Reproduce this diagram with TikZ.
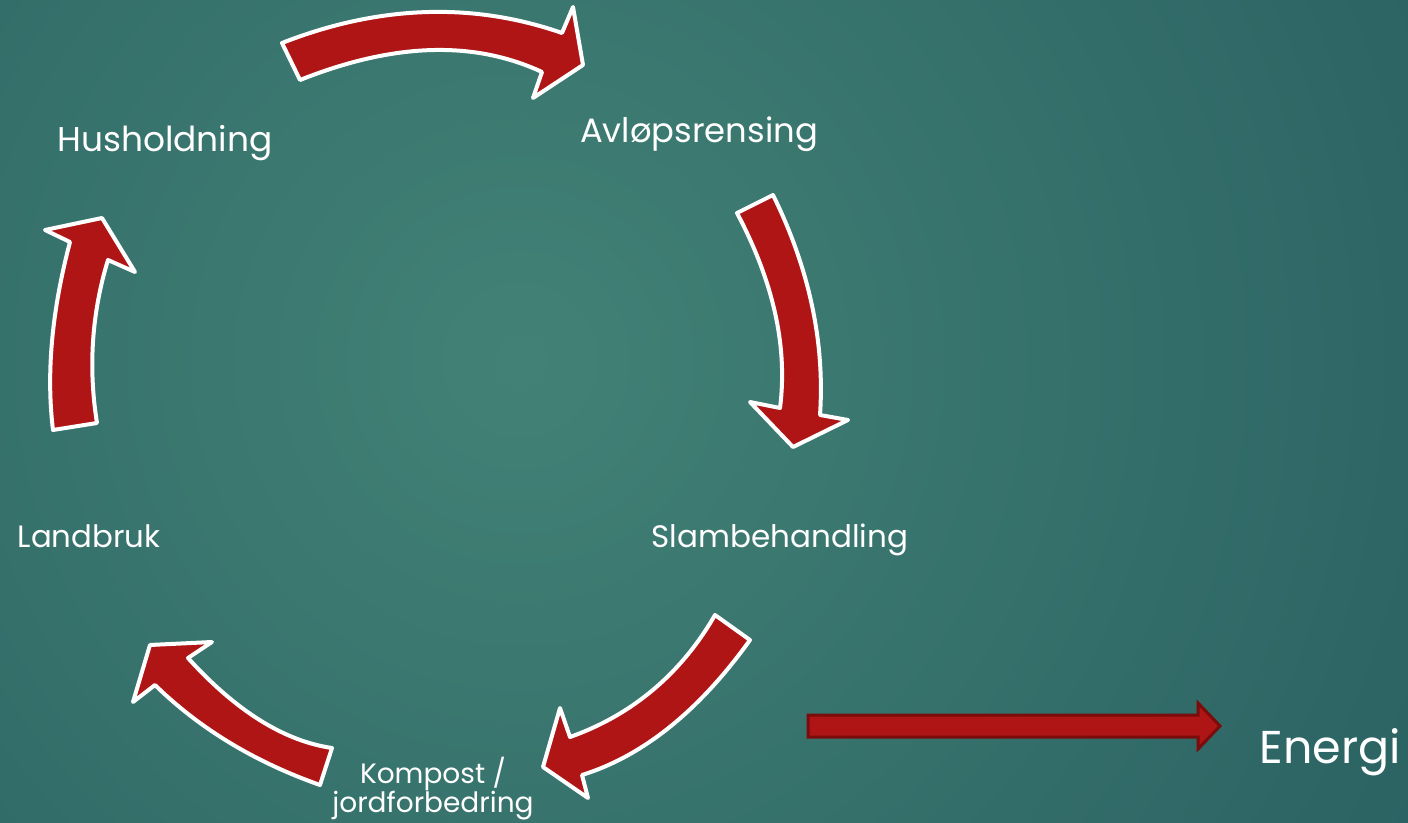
\documentclass[tikz,border=0pt]{standalone}
\usepackage{fontspec}
\setmainfont{Poppins}

\definecolor{bgin}{RGB}{66,130,118}
\definecolor{bgout}{RGB}{26,74,84}
\definecolor{pilrod}{RGB}{176,21,21}
\definecolor{pilmork}{RGB}{122,12,12}

\begin{document}
\begin{tikzpicture}[x=0.5pt,y=-0.5pt,
    pil/.style={fill=pilrod,draw=white,line width=2pt,line join=round},
    txt/.style={text=white,anchor=base,inner sep=0pt}]
  % bakgrunn
  \useasboundingbox (0,0) rectangle (1408,823);
  \clip (0,0) rectangle (1408,823);
  \shade[inner color=bgin,outer color=bgout] (520,360) circle (880pt);

  % ledd i kretsloepet
  \node[txt,font=\fontsize{17.2}{21}\selectfont] (hus) at (165,152) {Husholdning};
  \node[txt,font=\fontsize{16.9}{21}\selectfont] (avl) at (699,143) {Avløpsrensing};
  \node[txt,font=\fontsize{15.5}{19}\selectfont] (slam) at (780,547) {Slambehandling};
  \node[txt,font=\fontsize{15.4}{19}\selectfont] (land) at (89,547) {Landbruk};
  \node[txt,font=\fontsize{14}{14.5}\selectfont,align=center] (komp) at (433,812)
    {Kompost /\\jordforbedring};
  \node[txt,font=\fontsize{23}{28}\selectfont] (energi) at (1330,763) {Energi};

  % pilene rundt
  \draw[pil] (282,43) .. controls (379,5) and (473,2) .. (562,33) -- (573,7) -- (583,65)
    -- (533,98) -- (542,72) .. controls (473,40) and (393,43) .. (300,80) -- cycle;
  \draw[pil] (773,195) .. controls (809,268) and (825,342) .. (820,415) -- (848,420)
    -- (793,447) -- (750,402) -- (780,408) .. controls (788,346) and (773,281) .. (737,213)
    -- cycle;
  \draw[pil] (750,640) .. controls (699,711) and (643,756) .. (582,775) -- (588,798)
    -- (543,767) -- (560,708) -- (570,737) .. controls (632,715) and (681,674) .. (715,615)
    -- cycle;
  \draw[pil] (320,785) .. controls (255,762) and (200,729) .. (155,685) -- (133,702)
    -- (150,645) -- (212,642) -- (188,658) .. controls (236,711) and (284,741) .. (332,748)
    -- cycle;
  \draw[pil] (97,423) .. controls (88,367) and (92,312) .. (108,260) -- (135,272)
    -- (102,218) -- (45,230) -- (70,242) .. controls (52,310) and (46,373) .. (53,430)
    -- cycle;

  % pil mot energi
  \draw[fill=pilrod,draw=pilmork,line width=1.5pt] (808,715) -- (1198,715)
    -- (1198,703) -- (1220,726) -- (1198,749) -- (1198,737) -- (808,737) -- cycle;
\end{tikzpicture}
\end{document}
